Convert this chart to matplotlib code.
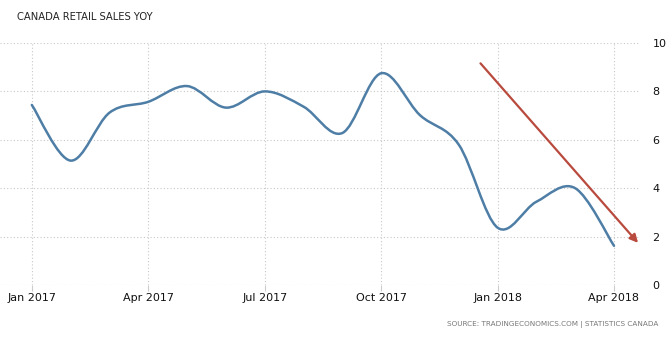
import matplotlib
matplotlib.use("Agg")
import matplotlib.pyplot as plt
import numpy as np
from matplotlib.path import Path
from matplotlib.patches import PathPatch, FancyArrowPatch

months = ["Jan 2017", "Feb 2017", "Mar 2017", "Apr 2017", "May 2017", "Jun 2017",
          "Jul 2017", "Aug 2017", "Sep 2017", "Oct 2017", "Nov 2017", "Dec 2017",
          "Jan 2018", "Feb 2018", "Mar 2018", "Apr 2018"]
values = [7.44, 5.14, 7.12, 7.57, 8.22, 7.33, 8.0, 7.37, 6.28, 8.75, 7.02, 5.8,
          2.37, 3.44, 4.0, 1.62]
tick_labels = ["Jan 2017", "Apr 2017", "Jul 2017", "Oct 2017", "Jan 2018", "Apr 2018"]
yticks = [0, 2, 4, 6, 8, 10]
arrow_start = (11.56, 9.16)
arrow_end = (15.62, 1.74)

plt.rcParams['font.family'] = ['DejaVu Sans']
fig = plt.figure(figsize=(6.71, 3.37), dpi=100)
ax = fig.add_axes([0.0, 0.1543, 640/671, 0.7181])

x = np.arange(len(values))
y = np.array(values)

# smooth spline (Catmull-Rom as cubic Bezier)
verts = [(x[0], y[0])]
codes = [Path.MOVETO]
n = len(x)
for i in range(n - 1):
    p0 = (x[max(i - 1, 0)], y[max(i - 1, 0)])
    p1 = (x[i], y[i])
    p2 = (x[i + 1], y[i + 1])
    p3 = (x[min(i + 2, n - 1)], y[min(i + 2, n - 1)])
    c1 = (p1[0] + (p2[0] - p0[0]) / 6, p1[1] + (p2[1] - p0[1]) / 6)
    c2 = (p2[0] - (p3[0] - p1[0]) / 6, p2[1] - (p3[1] - p1[1]) / 6)
    verts += [c1, c2, p2]
    codes += [Path.CURVE4] * 3
ax.add_patch(PathPatch(Path(verts, codes), fill=False, edgecolor="#4e7ea6", lw=1.8,
                       capstyle='round', joinstyle='round', zorder=3))

ax.add_patch(FancyArrowPatch(arrow_start, arrow_end, arrowstyle='-|>', mutation_scale=12,
                             color="#b94a3e", lw=1.6, shrinkA=0, shrinkB=0, zorder=4))

ax.set_xlim(-0.82, 15.67)
ax.set_ylim(0, 10)
ax.set_xticks([months.index(t) for t in tick_labels])
ax.set_xticklabels(tick_labels, fontsize=8, color="#111111")
ax.set_yticks(yticks)
ax.set_yticklabels([str(v) for v in yticks], fontsize=8, color="#111111")
ax.yaxis.tick_right()
ax.tick_params(axis='y', length=0, pad=9)
ax.tick_params(axis='x', length=4, color="#cccccc", pad=2)
ax.grid(True, linestyle=(0, (1, 2)), color="#c8c8c8", lw=0.8)
for s in ax.spines.values():
    s.set_visible(False)
ax.set_axisbelow(True)

fig.text(17/671, 1 - 17/337, "CANADA RETAIL SALES YOY", fontsize=7.2, color="#222222",
         va='center', ha='left')
fig.text(658/671, 1 - 325/337, "SOURCE: TRADINGECONOMICS.COM | STATISTICS CANADA",
         fontsize=5.2, color="#777777", va='center', ha='right')

fig.savefig("out.png", dpi=100)
